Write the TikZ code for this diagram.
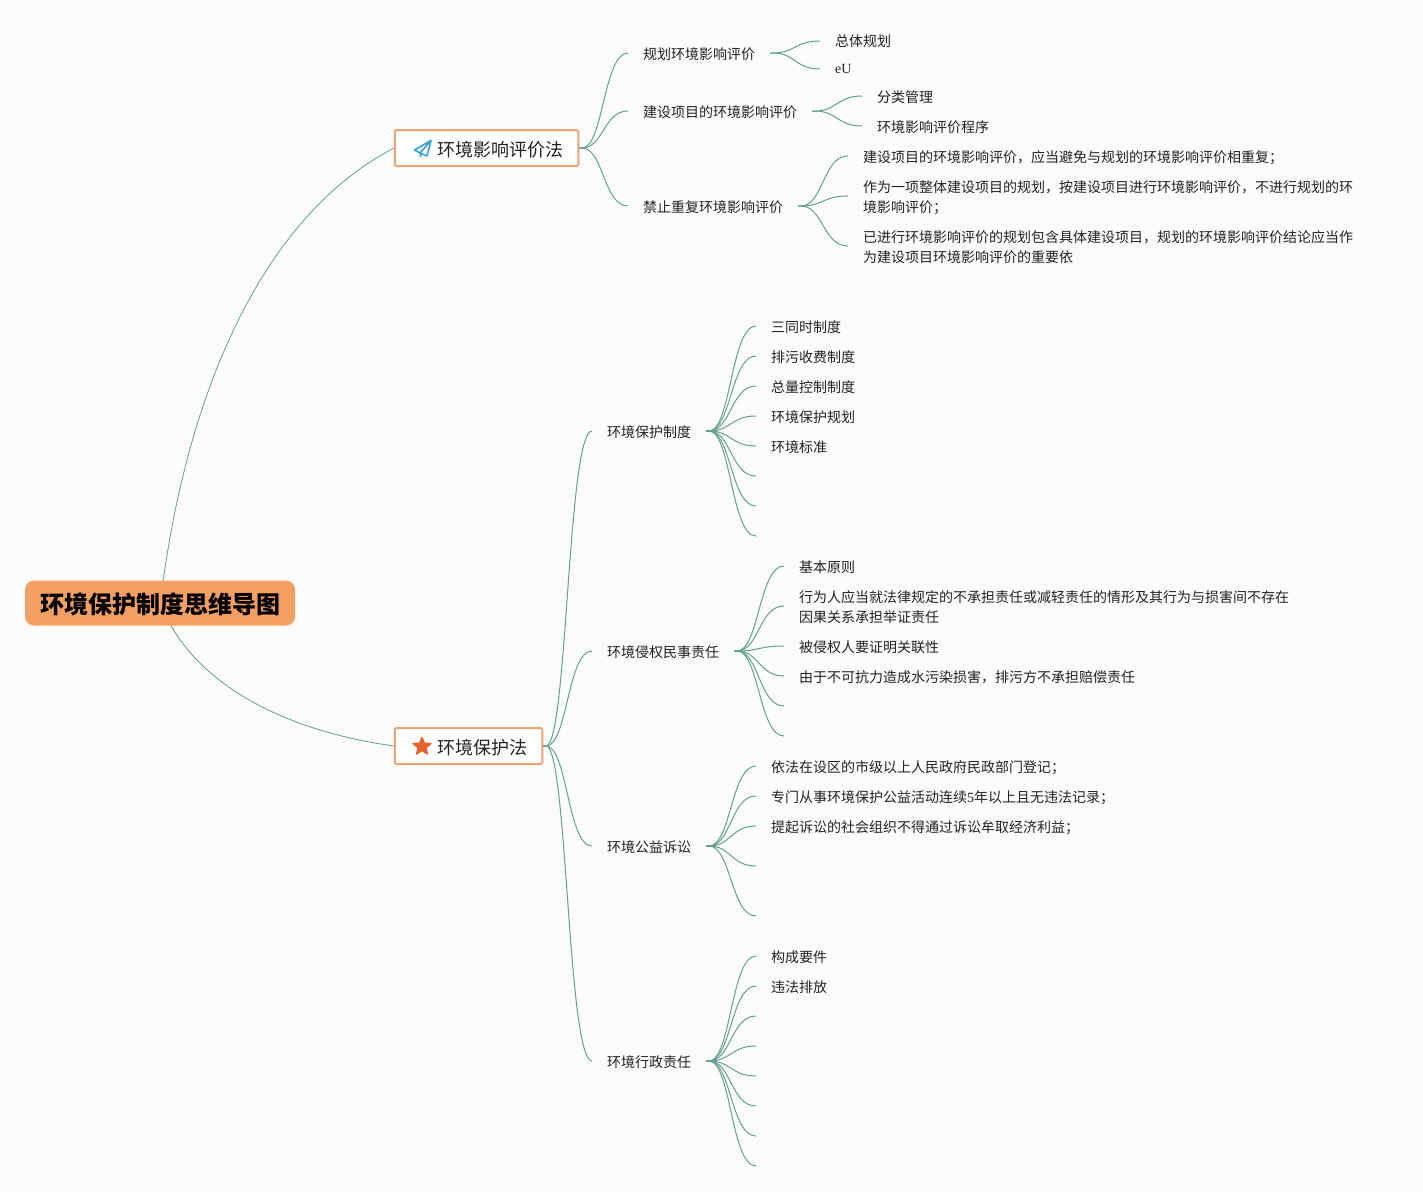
\documentclass[tikz,border=0pt]{standalone}
\usepackage{fontspec}
\setmainfont{Liberation Serif}
\newfontfamily\cjk{Noto Sans CJK SC}
\usetikzlibrary{calc}
\definecolor{bgc}{HTML}{FBFBFB}
\definecolor{linkc}{HTML}{659F90}
\definecolor{boxc}{HTML}{E8A577}
\definecolor{rootc}{HTML}{F4A064}
\definecolor{txtc}{HTML}{222222}
\definecolor{planec}{HTML}{3C9FD8}
\definecolor{starc}{HTML}{E5622E}
\newcommand{\lat}[1]{{\rmfamily #1}}
\tikzset{
  link/.style={draw=linkc,line width=1pt},
  rootlink/.style={draw=linkc,line width=.8pt},
  leaf/.style={anchor=west,inner sep=0pt,text=txtc,font=\fontsize{14}{20}\selectfont\cjk,align=left,yshift=-.4pt},
  rootbox/.style={fill=rootc,rounded corners=9pt,minimum width=270pt,minimum height=45pt,inner sep=0pt},
  roottext/.style={inner sep=0pt,font=\fontsize{24}{28}\selectfont\cjk\bfseries,text=black},
  topicbox/.style={draw=boxc,line width=2pt,rounded corners=1.5pt,fill=white,inner sep=0pt,minimum height=36pt},
  topictext/.style={anchor=west,inner sep=0pt,font=\fontsize{18}{22}\selectfont\cjk,text=txtc},
}
\newcommand{\lnk}[2]{\draw[link] let \p1=(#1),\p2=(#2) in (\p1) -- ++(3,0) .. controls ({(\x1+\x2)/2},\y1) and ({(\x1+\x2)/2},\y2) .. (\p2);}
% junction, prefix, x of free ends, list of y
\newcommand{\fan}[4]{\foreach \yy [count=\i] in {#4}{\coordinate (#2\i) at (#3,\yy); \lnk{#1}{#2\i}}}
\begin{document}
\begin{tikzpicture}[x=1pt,y=-1pt]
\useasboundingbox (0,0) rectangle (1423,1191);
\fill[bgc] (0,0) rectangle (1423,1191);
% root links
\coordinate (r1) at (163,582);
\coordinate (r2) at (170,624);
\coordinate (t1w) at (394,148);
\coordinate (t2w) at (394,746);
\draw[rootlink] (r1) .. controls (190,385) and (265,215) .. (t1w);
\draw[rootlink] (r2) .. controls (210,695) and (300,733) .. (t2w);
% main boxes
\node[rootbox] (root) at (160,603) {};
\node[roottext] (roottxt) at (160.5,604.5) {环境保护制度思维导图};
\node[topicbox,minimum width=183.5pt] (t1) at (486.5,148) {};
\node[topicbox,minimum width=147.5pt] (t2) at (468.5,746) {};
\node[topictext] (t1t) at (437,149.3) {环境影响评价法};
\node[topictext] (t2t) at (437,747.3) {环境保护法};
% icons
\draw[planec,line width=1.6pt,line join=round] (431,140.5) -- (414.5,150) -- (420,153) -- cycle (431,140.5) -- (427,156) -- (420,153) -- (421,157);
\fill[starc,draw=starc,line width=1.2pt,line join=round] (422,737.5)
 -- ++(2.47,5.6) -- (431,743.56) -- (426,747.8) -- (427.6,754.2) -- (422,750.7) -- (416.4,754.2) -- (418,747.8) -- (413,743.56) -- (419.53,743.1) -- cycle;
% second level, first branch
\coordinate (a) at (579,148);
\coordinate (a1) at (628,53);
\coordinate (a2) at (628,111);
\coordinate (a3) at (628,206);
\lnk{a}{a1}\lnk{a}{a2}\lnk{a}{a3}
\node[leaf] (A1) at (643,54) {规划环境影响评价};
\node[leaf] (A2) at (643,112) {建设项目的环境影响评价};
\node[leaf] (A3) at (643,207) {禁止重复环境影响评价};
\coordinate (j1) at (770,53);
\coordinate (j2) at (812,111);
\coordinate (j3) at (798,206);
\fan{j1}{p}{820}{41,69}
\fan{j2}{q}{862}{96,126}
\fan{j3}{s}{848}{156,196,246}
\node[leaf] (p1t) at (835,41) {总体规划};
\node[leaf] (p2t) at (835,69) {\lat{eU}};
\node[leaf] (q1t) at (877,97) {分类管理};
\node[leaf] (q2t) at (877,127) {环境影响评价程序};
\node[leaf] (s1t) at (863,157) {建设项目的环境影响评价，应当避免与规划的环境影响评价相重复；};
\node[leaf] (s2t) at (863,197.5) {作为一项整体建设项目的规划，按建设项目进行环境影响评价，不进行规划的环\\境影响评价；};
\node[leaf] (s3t) at (863,247) {已进行环境影响评价的规划包含具体建设项目，规划的环境影响评价结论应当作\\为建设项目环境影响评价的重要依};
% second branch
\coordinate (b) at (543,746);
\coordinate (b1) at (592,431);
\coordinate (b2) at (592,651);
\coordinate (b3) at (592,846);
\coordinate (b4) at (592,1061);
\lnk{b}{b1}\lnk{b}{b2}\lnk{b}{b3}\lnk{b}{b4}
\node[leaf] (B1) at (607,432) {环境保护制度};
\node[leaf] (B2) at (607,652) {环境侵权民事责任};
\node[leaf] (B3) at (607,847) {环境公益诉讼};
\node[leaf] (B4) at (607,1062) {环境行政责任};
\coordinate (k1) at (706,431);
\coordinate (k2) at (734,651);
\coordinate (k3) at (706,846);
\coordinate (k4) at (706,1061);
\fan{k1}{u}{756}{326,356,386,416,446,476,506,536}
\fan{k2}{v}{784}{566,606,646,676,706,736}
\fan{k3}{w}{756}{766,796,826,866,916}
\fan{k4}{x}{756}{956,986,1016,1046,1076,1106,1136,1166}
\node[leaf] (u1t) at (771,327) {三同时制度};
\node[leaf] (u2t) at (771,357) {排污收费制度};
\node[leaf] (u3t) at (771,387) {总量控制制度};
\node[leaf] (u4t) at (771,417) {环境保护规划};
\node[leaf] (u5t) at (771,447) {环境标准};
\node[leaf] (v1t) at (799,567) {基本原则};
\node[leaf] (v2t) at (799,607) {行为人应当就法律规定的不承担责任或减轻责任的情形及其行为与损害间不存在\\因果关系承担举证责任};
\node[leaf] (v3t) at (799,647) {被侵权人要证明关联性};
\node[leaf] (v4t) at (799,677) {由于不可抗力造成水污染损害，排污方不承担赔偿责任};
\node[leaf] (w1t) at (771,767) {依法在设区的市级以上人民政府民政部门登记；};
\node[leaf] (w2t) at (771,797) {专门从事环境保护公益活动连续\lat{5}年以上且无违法记录；};
\node[leaf] (w3t) at (771,827) {提起诉讼的社会组织不得通过诉讼牟取经济利益；};
\node[leaf] (x1t) at (771,957) {构成要件};
\node[leaf] (x2t) at (771,987) {违法排放};
\end{tikzpicture}
\end{document}
